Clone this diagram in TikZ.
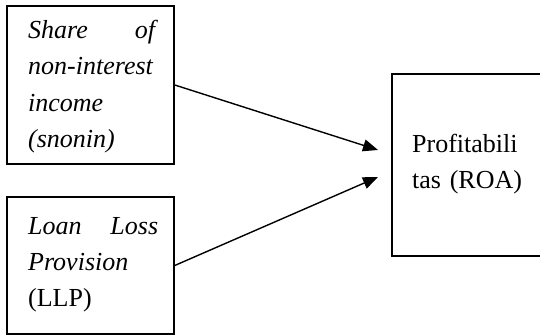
\documentclass[tikz,border=0pt]{standalone}
\usepackage{fontspec}
\setmainfont{Liberation Serif}
\usetikzlibrary{arrows.meta}
\begin{document}
\begin{tikzpicture}[x=1pt,y=-1pt,
  box/.style={draw,line width=1.5pt,inner sep=0pt},
  txt/.style={inner sep=0pt,anchor=north west,text width=130pt,align=left,
    font=\fontsize{26}{36.3}\selectfont},
  link/.style={line width=1.4pt,-{Triangle[length=15pt,width=12pt]}}]
\useasboundingbox (0,0) rectangle (540,336);
\clip (0,0) rectangle (540,336);
\node[box,minimum width=167pt,minimum height=158pt] (b1) at (90.5,85) {};
\node[box,minimum width=167pt,minimum height=137pt] (b2) at (90.5,265.5) {};
\node[box,minimum width=200pt,minimum height=182pt,anchor=west] (b3) at (391,165) {};
\node[txt] (t1) at (28,20) {\textit{Share\hfill of}\\ \textit{non-interest}\\ \textit{income}\\ \textit{(snonin)}};
\node[txt] (t2) at (28,217) {\textit{Loan\hfill Loss}\\ \textit{Provision}\\ (LLP)};
\node[txt] (t3) at (412,134) {Profitabili\\ tas (ROA)};
\coordinate (e1) at (378,150);
\coordinate (e2) at (378,177);
\draw[link] (b1.east) -- (e1);
\draw[link] (b2.east) -- (e2);
\end{tikzpicture}
\end{document}
